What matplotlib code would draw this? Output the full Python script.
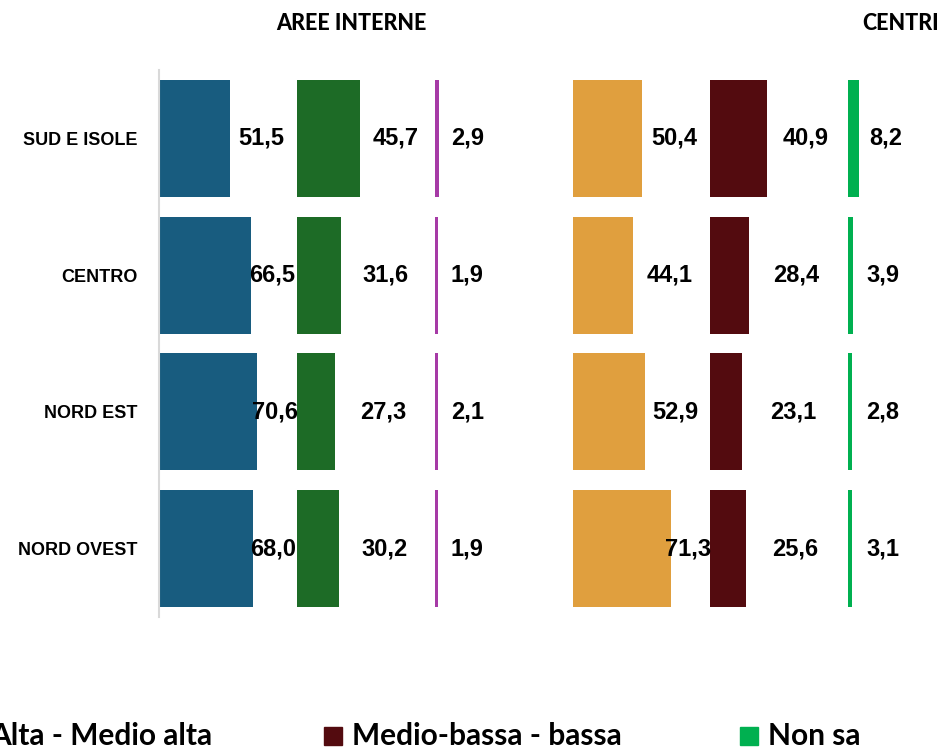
import matplotlib
matplotlib.use("Agg")
import matplotlib.pyplot as plt
from matplotlib.patches import Rectangle

plt.rcParams.update({
    "font.family": ["Liberation Sans", "DejaVu Sans"],
})

# ── Data ──────────────────────────────────────────────────────────────────────
regions = ["SUD E ISOLE", "CENTRO", "NORD EST", "NORD OVEST"]

aree_alta  = [51.5, 66.5, 70.6, 68.0]
aree_bassa = [45.7, 31.6, 27.3, 30.2]
aree_nonsa = [2.9, 1.9, 2.1, 1.9]

centri_alta  = [50.4, 44.1, 52.9, 71.3]
centri_bassa = [40.9, 28.4, 23.1, 25.6]
centri_nonsa = [8.2, 3.9, 2.8, 3.1]

legend_labels = ["Alta - Medio alta", "Medio-bassa - bassa", "Non sa"]

# each series gets its own 100-wide column; "Non sa" labels sit in a shorter slot
series = [
    (aree_alta,    "#185C7F", 100),
    (aree_bassa,   "#1D6B26", 100),
    (aree_nonsa,   "#A63AA6", 48),
    (centri_alta,  "#E09F3E", 100),
    (centri_bassa, "#530B0F", 100),
    (centri_nonsa, "#00B050", 50),
]

W, H = 945, 750
X0 = 159.5
SCALE = 1.377   # px per percentage point
fig = plt.figure(figsize=(W / 100, H / 100), dpi=100)
ax = fig.add_axes([X0 / W, (H - 617) / H, (W - X0) / W, 547 / H])

ypos = list(range(len(regions)))[::-1]

for i, (vals, color, slot) in enumerate(series):
    start = i * 100
    ax.barh(ypos, vals, left=start, height=0.855, color=color,
            edgecolor="none")
    for y, v in zip(ypos, vals):
        ax.text(start + (v + slot) / 2 - 1.5, y, f"{v:.1f}".replace(".", ","),
                ha="center", va="center", fontsize=17, fontweight="bold",
                color="black")

ax.set_xlim(0, (W - X0) / SCALE)
ax.set_ylim(-0.5, 3.5)
ax.set_yticks(ypos)
ax.set_yticklabels(regions, fontsize=13, fontweight="bold")
ax.tick_params(axis="y", length=0, pad=16)
ax.set_xticks([])
for side in ["top", "right", "bottom"]:
    ax.spines[side].set_visible(False)
ax.spines["left"].set_color("#D9D9D9")
ax.spines["left"].set_linewidth(1.5)

# group headers
fig.text(351 / W, 1 - 24 / H, "AREE INTERNE", ha="center", va="center",
         fontsize=15.5, fontweight="black", family=["Lato", "DejaVu Sans"])
fig.text(862 / W, 1 - 24 / H, "CENTRI", ha="left", va="center",
         fontsize=15.5, fontweight="black", family=["Lato", "DejaVu Sans"])

# legend row along the bottom edge
leg_colors = ["#185C7F", "#530B0F", "#00B050"]
leg_x = [-38, 324, 740]
for x, c, lab in zip(leg_x, leg_colors, legend_labels):
    fig.patches.append(Rectangle((x / W, (H - 745) / H), 18 / W, 18 / H,
                                 transform=fig.transFigure, color=c))
    fig.text((x + 28) / W, (H - 736) / H, lab, ha="left", va="center",
             fontsize=21.5, fontweight="bold", family=["Lato", "DejaVu Sans"])

fig.savefig("out.png", dpi=100)
